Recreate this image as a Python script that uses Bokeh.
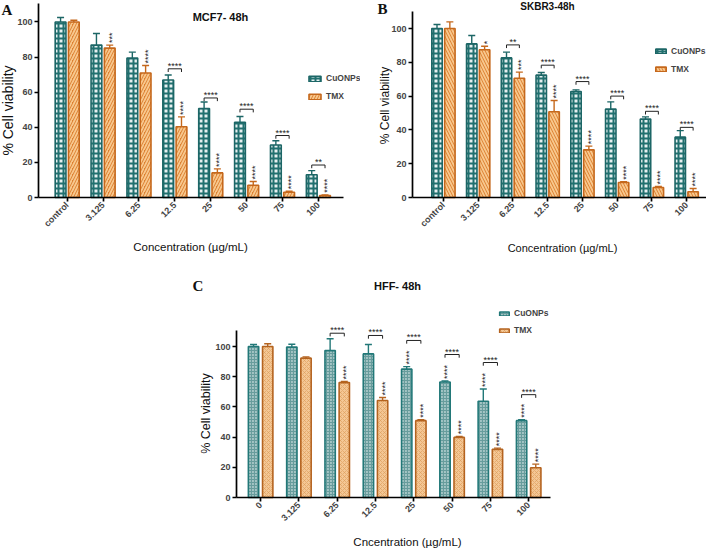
import numpy as np
from math import pi
from bokeh.plotting import figure
from bokeh.models import (ColumnDataSource, FixedTicker, Whisker, TeeHead, Legend,
                          LegendItem, Label, LabelSet, Spacer)
from bokeh.layouts import row, column
from bokeh.core.properties import value
from bokeh.embed import file_html
from bokeh.resources import INLINE

# ---------------- data ----------------
cats_ab = ["control", "3.125", "6.25", "12.5", "25", "50", "75", "100"]
cats_c = ["0", "3.125", "6.25", "12.5", "25", "50", "75", "100"]
y_ticks = [0, 20, 40, 60, 80, 100]

mcf7_cuonps = [100, 86.8, 79.4, 66.9, 50.7, 42.9, 29.9, 13.0]
mcf7_cuonps_sd = [2.5, 6.6, 3.4, 2.9, 3.7, 3.2, 2.4, 2.3]
mcf7_tmx = [100, 85.1, 70.9, 40.3, 14.0, 7.0, 3.0, 1.1]
mcf7_tmx_sd = [1.0, 1.7, 4.3, 5.6, 2.3, 2.1, 0.6, 0.4]
mcf7_stars_tmx = ["", "***", "****", "****", "****", "****", "****", "****"]
mcf7_stars_cu = ["", "", "", "", "", "", "", ""]
mcf7_bracket = ["", "", "", "****", "****", "****", "****", "**"]
mcf7_bracket_y = [0, 0, 0, 73.3, 56.7, 50.3, 35.3, 18.5]

skbr3_cuonps = [100, 90.9, 82.6, 72.4, 62.7, 52.3, 46.4, 35.7]
skbr3_cuonps_sd = [2.4, 5.0, 3.4, 1.6, 1.0, 4.3, 1.3, 3.9]
skbr3_tmx = [100, 87.4, 70.6, 50.7, 28.2, 8.9, 5.9, 3.4]
skbr3_tmx_sd = [3.9, 2.1, 3.6, 6.7, 2.2, 0.4, 0.6, 1.9]
skbr3_stars_tmx = ["", "*", "***", "****", "****", "****", "****", "****"]
skbr3_stars_cu = ["", "", "", "", "", "", "", ""]
skbr3_bracket = ["", "", "**", "****", "****", "****", "****", "****"]
skbr3_bracket_y = [0, 0, 90.3, 78.3, 68.6, 60.0, 51.0, 41.5]

hff_cuonps = [100, 99.6, 97.3, 95.1, 85.0, 76.5, 63.7, 50.9]
hff_cuonps_sd = [1.3, 1.9, 7.8, 6.2, 1.7, 0.7, 8.2, 0.6]
hff_tmx = [100, 92.3, 76.1, 64.2, 50.9, 39.8, 31.9, 19.7]
hff_tmx_sd = [1.8, 0.8, 0.7, 2.0, 0.6, 0.7, 0.8, 2.4]
hff_stars_tmx = ["", "", "****", "****", "****", "****", "****", "****"]
hff_stars_cu = ["", "", "", "", "****", "****", "****", "****"]
hff_bracket = ["", "", "****", "****", "****", "****", "****", "****"]
hff_bracket_y = [0, 0, 108.8, 107.3, 104.0, 94.7, 89.4, 68.1]

FONT = "Liberation Sans"
SERIF = "Liberation Serif"
OFF = 0.185


class Geo:
    """Maps picture pixels to data units; (ox, oy) is where data (x0, 0) sits."""
    def __init__(self, left, top, w, h, ox, oy, x0, x1, ytop, ppc, ppu):
        self.left, self.top, self.w, self.h = left, top, w, h
        self.ox, self.oy, self.x0, self.x1, self.ytop = ox, oy, x0, x1, ytop
        self.ppc, self.ppu = ppc, ppu
        self.x_range = (x0 - (ox - left) / ppc, x0 + (left + w - ox) / ppc)
        self.y_range = (-(top + h - oy) / ppu, (oy - top) / ppu)

    def x(self, px):
        return self.x0 + (px - self.ox) / self.ppc

    def y(self, py):
        return (self.oy - py) / self.ppu


def panel(g, cats, cu, cu_sd, tm, tm_sd, stars_cu, stars_tm, br_lab, br_y, sty,
          label_size="9px", bar_w=0.30):
    p = figure(width=g.w, height=g.h, x_range=g.x_range, y_range=g.y_range, title=None,
               output_backend="svg", toolbar_location=None, min_border=0)
    p.outline_line_color = None
    p.grid.visible = False
    x = np.arange(len(cats), dtype=float)
    cu = np.array(cu, float); tm = np.array(tm, float)
    src = ColumnDataSource(dict(xc=x - OFF, xt=x + OFF, cu=cu, tm=tm,
                                cu_top=cu + np.array(cu_sd), tm_top=tm + np.array(tm_sd)))
    r1 = p.vbar(x="xc", top="cu", bottom=0, width=bar_w, source=src,
                fill_color=sty["cu_fill"], line_color=sty["cu_line"], line_width=1.6,
                hatch_pattern=sty["cu_hatch"], hatch_color=sty["cu_hcolor"],
                hatch_scale=sty["cu_scale"], hatch_weight=sty["cu_weight"])
    r2 = p.vbar(x="xt", top="tm", bottom=0, width=bar_w, source=src,
                fill_color=sty["tm_fill"], line_color=sty["tm_line"], line_width=1.6,
                hatch_pattern=sty["tm_hatch"], hatch_color=sty["tm_hcolor"],
                hatch_scale=sty["tm_scale"], hatch_weight=sty["tm_weight"])
    for base, lo, hi, col in (("xc", "cu", "cu_top", sty["cu_line"]),
                              ("xt", "tm", "tm_top", sty["tm_line"])):
        p.add_layout(Whisker(source=src, base=base, lower=lo, upper=hi, dimension="height",
                             line_color=col, line_width=1.4, lower_head=None, level="overlay",
                             upper_head=TeeHead(size=7, line_color=col, line_width=1.4)))
    # vertical significance stars
    vx, vy, vt = [], [], []
    for i, s in enumerate(stars_tm):
        if s:
            vx.append(x[i] + OFF); vy.append(src.data["tm_top"][i]); vt.append(s)
    for i, s in enumerate(stars_cu):
        if s:
            vx.append(x[i] - OFF); vy.append(src.data["cu_top"][i]); vt.append(s)
    vs = ColumnDataSource(dict(x=vx, y=vy, t=vt))
    p.add_layout(LabelSet(x="x", y="y", text="t", source=vs, angle=pi / 2, text_align="left",
                          text_baseline="middle", x_offset=2, y_offset=2,
                          text_font=value(FONT), text_font_size="9px", text_color="#222222"))
    # brackets
    tick_units = 3.2 / g.ppu
    bi = [i for i, s in enumerate(br_lab) if s]
    bx0 = [x[i] - OFF for i in bi]; bx1 = [x[i] + OFF for i in bi]
    by = [br_y[i] for i in bi]
    byl = [br_y[i] - tick_units for i in bi]
    p.segment(x0=bx0, y0=by, x1=bx1, y1=by, line_color="#222222", line_width=1)
    p.segment(x0=bx0, y0=by, x1=bx0, y1=byl, line_color="#222222", line_width=1)
    p.segment(x0=bx1, y0=by, x1=bx1, y1=byl, line_color="#222222", line_width=1)
    bs = ColumnDataSource(dict(x=[x[i] for i in bi], y=by, t=[br_lab[i] for i in bi]))
    p.add_layout(LabelSet(x="x", y="y", text="t", source=bs, text_align="center",
                          text_baseline="alphabetic", y_offset=0,
                          text_font=value(FONT), text_font_size="9px", text_color="#222222"))
    # axes, pinned at the data origin
    p.xaxis.ticker = FixedTicker(ticks=list(x))
    p.xaxis.major_label_overrides = {int(i): c for i, c in enumerate(cats)}
    p.xaxis.major_label_orientation = pi / 4
    p.xaxis.fixed_location = 0
    p.xaxis.bounds = (g.x0, g.x1)
    p.yaxis.ticker = FixedTicker(ticks=y_ticks)
    p.yaxis.fixed_location = g.x0
    p.yaxis.bounds = (0, g.ytop)
    for ax in (p.xaxis[0], p.yaxis[0]):
        ax.axis_line_width = 1.7
        ax.major_tick_line_width = 1.7
        ax.major_tick_out = 4
        ax.major_tick_in = 0
        ax.minor_tick_line_color = None
        ax.major_label_text_font = FONT
        ax.major_label_text_font_style = "bold"
        ax.major_label_text_font_size = label_size
        ax.major_label_standoff = 2
    return p, r1, r2


def add_legend(p, r1, r2, loc, gw, gh, spacing):
    leg = Legend(items=[LegendItem(label="CuONPs", renderers=[r1]),
                        LegendItem(label="TMX", renderers=[r2])],
                 location=loc, padding=0, margin=0, spacing=spacing,
                 glyph_width=gw, glyph_height=gh, label_height=12, label_standoff=4,
                 label_text_font=FONT, label_text_font_style="bold",
                 label_text_font_size="8.5px",
                 border_line_color=None, background_fill_alpha=0)
    p.add_layout(leg)


def add_text(p, g, px, py, text, size, font=FONT, style="bold", align="center",
             baseline="middle", angle=0.0):
    p.add_layout(Label(x=g.x(px), y=g.y(py), text=text, text_font=font,
                       text_font_style=style, text_font_size=size, text_align=align,
                       text_baseline=baseline, angle=angle, text_color="#111111"))


sty_ab = dict(cu_fill="#e6f0f0", cu_line="#1c6666", cu_hatch="cross", cu_hcolor="#21706f",
              cu_scale=5, cu_weight=2.0,
              tm_fill="#dc8030", tm_line="#c5681c", tm_hatch="right_diagonal_line",
              tm_hcolor="#f8c88e", tm_scale=6, tm_weight=1.8)
sty_b = dict(sty_ab, tm_hatch="left_diagonal_line")
sty_c = dict(cu_fill="#a3c4c4", cu_line="#227878", cu_hatch="cross", cu_hcolor="#679c9c",
             cu_scale=3, cu_weight=1.2,
             tm_fill="#f4c795", tm_line="#b4631f", tm_hatch="diagonal_cross",
             tm_hcolor="#dc9a58", tm_scale=4, tm_weight=0.6)

# ---- panel A ----
gA = Geo(0, 0, 360, 258, 38, 197, -0.8, 7.7, 110.5, 305 / 8.5, 194 / 110.5)
pA, a1, a2 = panel(gA, cats_ab, mcf7_cuonps, mcf7_cuonps_sd, mcf7_tmx, mcf7_tmx_sd,
                   mcf7_stars_cu, mcf7_stars_tmx, mcf7_bracket, mcf7_bracket_y, sty_ab)
add_legend(pA, a1, a2, (307, 156), 15, 7, 6)
add_text(pA, gA, 220, 16, "MCF7- 48h", "11px")
add_text(pA, gA, 1, 1, "A", "15px", font=SERIF, align="left", baseline="top")
add_text(pA, gA, 7, 110, "% Cell viability", "14px", style="normal", angle=pi / 2)
add_text(pA, gA, 190, 246, "Concentration (µg/mL)", "11.5px", style="normal")

# ---- panel B ----
gB = Geo(360, 0, 346, 258, 412, 197, -0.89, 7.57, 110, 294 / 8.46, 169 / 100)
pB, b1, b2 = panel(gB, cats_ab, skbr3_cuonps, skbr3_cuonps_sd, skbr3_tmx, skbr3_tmx_sd,
                   skbr3_stars_cu, skbr3_stars_tmx, skbr3_bracket, skbr3_bracket_y, sty_b)
add_legend(pB, b1, b2, (294, 183), 13, 6, 6)
add_text(pB, gB, 547, 6, "SKBR3-48h", "10px")
add_text(pB, gB, 377, 0, "B", "15px", font=SERIF, align="left", baseline="top")
add_text(pB, gB, 384, 105, "% Cell viability", "12px", style="normal", angle=pi / 2)
add_text(pB, gB, 562, 247, "Concentration (µg/mL)", "11px", style="normal")

# ---- panel C ----
gC = Geo(186, 258, 392, 290, 236, 497, -0.63, 7.57, 110.6, 314 / 8.2, 151 / 100)
pC, c1, c2 = panel(gC, cats_c, hff_cuonps, hff_cuonps_sd, hff_tmx, hff_tmx_sd,
                   hff_stars_cu, hff_stars_tmx, hff_bracket, hff_bracket_y, sty_c,
                   label_size="9px", bar_w=0.27)
add_legend(pC, c1, c2, (312, 212), 12, 5, 5)
add_text(pC, gC, 397, 285, "HFF- 48h", "11px")
add_text(pC, gC, 192, 277, "C", "15px", font=SERIF, align="left", baseline="top")
add_text(pC, gC, 205, 413, "% Cell viability", "12.5px", style="normal", angle=pi / 2)
add_text(pC, gC, 407, 541, "Cncentration (µg/mL)", "11.5px", style="normal")

layout = column(row(pA, pB), row(Spacer(width=186, height=290), pC))
open("out.html", "w").write(file_html(layout, INLINE))
